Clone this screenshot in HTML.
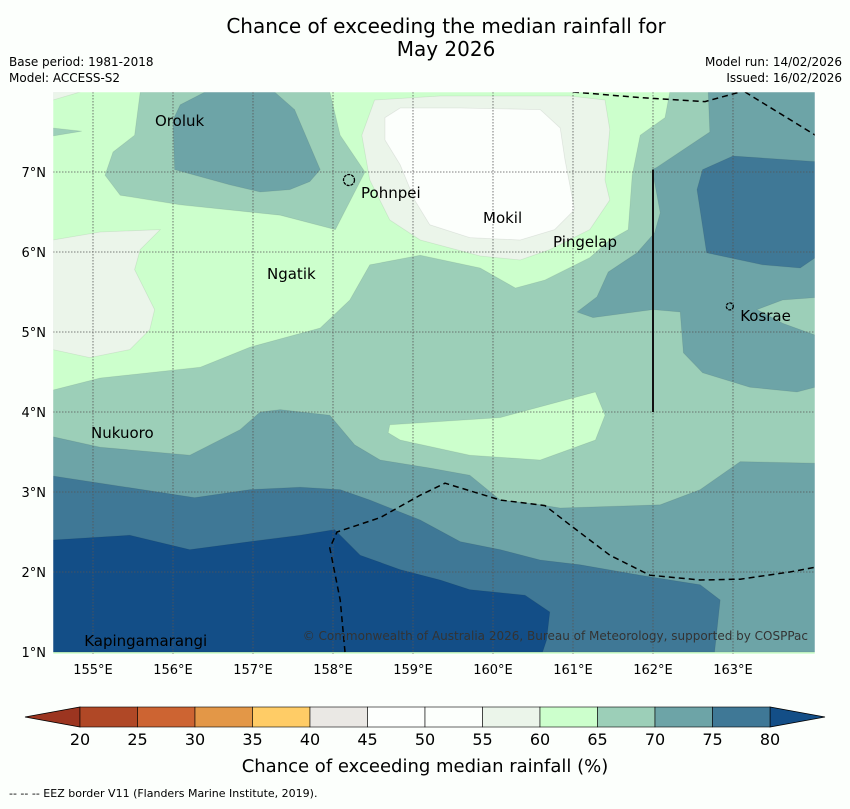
<!DOCTYPE html>
<html><head><meta charset="utf-8"><style>
body{margin:0;background:#fcfffc;width:850px;height:804px;overflow:hidden;font-family:"Liberation Sans","DejaVu Sans",sans-serif}
svg text{font-family:"DejaVu Sans","Liberation Sans",sans-serif}
</style></head><body>
<svg id="chart" width="850" height="804" xmlns="http://www.w3.org/2000/svg">
<text x="446" y="33" font-size="20" text-anchor="middle">Chance of exceeding the median rainfall for</text>
<text x="446" y="56" font-size="20" text-anchor="middle">May 2026</text>
<text x="9" y="66" font-size="12">Base period: 1981-2018</text>
<text x="9" y="82" font-size="12">Model: ACCESS-S2</text>
<text x="842" y="66" font-size="12" text-anchor="end">Model run: 14/02/2026</text>
<text x="842" y="82" font-size="12" text-anchor="end">Issued: 16/02/2026</text>
<g id="map"></g>
<g id="cbar"></g>
<text x="425" y="772" font-size="18" text-anchor="middle">Chance of exceeding median rainfall (%)</text>
<text x="9" y="797" font-size="11">--  --  -- EEZ border V11 (Flanders Marine Institute, 2019).</text>
</svg>
<script>
const levels=[20,25,30,35,40,45,50,55,60,65,70,75,80];
const levelColors=["#b04826","#cd6432","#e39747","#ffcc66","#eae8e4","#fdfffd","#fcfffc","#ebf5ea","#ccffcc","#9ccfb8","#6da4a7","#3f7896"];
const lowColor="#9c3520", highColor="#134e87";
const lonTicks=[155,156,157,158,159,160,161,162,163];
const latTicks=[1,2,3,4,5,6,7];
const regions=[
[65,[[154.5,4.275],[155.09,4.425],[156.34,4.56],[156.96,4.81],[157.84,5.05],[158.21,5.4],[158.46,5.84],[159.09,5.96],[159.84,5.8],[160.28,5.55],[160.65,5.65],[161.21,5.93],[161.46,6.15],[161.69,6.28],[161.74,6.96],[161.84,7.46],[162.15,7.68],[162.21,8],[164.03,8],[164.03,1],[154.5,1]]],
[65,[[155.15,6.96],[155.25,7.25],[155.52,7.46],[155.59,8],[157.96,8],[158.09,7.46],[158.4,7.0],[158.03,6.28],[157.34,6.46],[156.09,6.59],[155.34,6.71]]],
[65,[[154.5,7.55],[154.86,7.51],[154.5,7.45]]],
[60,[[158.71,3.84],[160.09,3.93],[161.28,4.25],[161.4,3.96],[161.28,3.65],[160.59,3.4],[159.71,3.46],[158.84,3.65],[158.69,3.74]]],
[55,[[154.5,6.15],[155.09,6.25],[155.84,6.28],[155.59,6.03],[155.52,5.78],[155.77,5.28],[155.71,5.03],[155.46,4.78],[154.96,4.68],[154.5,4.78]]],
[55,[[154.5,8],[154.84,8],[154.5,7.9]]],
[55,[[158.36,7.46],[158.52,7.9],[159.34,7.95],[160.96,7.95],[161.4,7.9],[161.46,7.53],[161.4,6.9],[161.46,6.65],[161.21,6.28],[160.71,6.03],[160.34,5.9],[159.84,5.95],[159.09,6.15],[158.71,6.4],[158.46,6.9]]],
[50,[[158.65,7.68],[158.84,7.8],[159.59,7.8],[160.59,7.78],[160.84,7.55],[160.9,7.15],[161.02,6.53],[160.77,6.28],[160.34,6.15],[159.71,6.18],[159.21,6.34],[159.02,6.65],[158.84,7.09],[158.65,7.4]]],
[70,[[156.0,7.65],[156.09,7.84],[156.4,8],[157.27,8],[157.52,7.78],[157.84,7.03],[157.71,6.88],[157.46,6.78],[157.09,6.75],[156.71,6.84],[156.02,7.03]]],
[70,[[162.69,8],[162.71,7.5],[162.05,7.06],[161.99,7.03],[162.09,6.49],[162.02,6.24],[161.8,5.99],[161.44,5.75],[161.3,5.44],[161.05,5.25],[161.25,5.18],[162.0,5.28],[162.34,5.25],[162.38,4.74],[162.62,4.49],[163.21,4.31],[163.8,4.25],[164.03,4.31],[164.03,4.96],[163.62,5.11],[163.3,5.28],[163.62,5.4],[164.03,5.43],[164.03,8]]],
[75,[[162.62,7.03],[163.0,7.2],[164.03,7.13],[164.03,5.93],[163.84,5.8],[163.37,5.84],[162.67,5.99],[162.55,6.78]]],
[70,[[154.5,3.69],[155.09,3.56],[156.21,3.46],[156.84,3.78],[157.09,4.0],[157.34,4.03],[157.96,3.96],[158.27,3.59],[158.59,3.4],[159.21,3.3],[159.71,3.21],[160.09,2.9],[160.59,2.84],[160.84,2.8],[162.09,2.84],[162.59,3.03],[163.09,3.38],[164.03,3.36],[164.03,1],[154.5,1]]],
[75,[[154.5,3.2],[155.09,3.11],[156.27,2.93],[156.96,3.03],[157.59,3.06],[158.09,3.03],[158.46,2.9],[159.09,2.65],[159.59,2.38],[160.09,2.28],[160.59,2.15],[161.09,2.09],[161.84,1.96],[162.59,1.84],[162.84,1.65],[162.77,1],[154.5,1]]],
[80,[[154.5,2.4],[155.46,2.46],[156.21,2.28],[156.96,2.38],[157.59,2.46],[158.02,2.53],[158.34,2.21],[158.84,2.03],[159.34,1.9],[159.71,1.78],[160.4,1.71],[160.71,1.5],[160.67,1.15],[160.62,1],[154.5,1]]]
];
const eezLines=[
[[161.0,8],[161.84,7.93],[162.65,7.88],[163.09,8]],
[[163.15,8],[164.03,7.46]],
[[158.15,1],[158.09,1.65],[157.96,2.3],[158.05,2.5],[158.59,2.68],[159.09,2.96],[159.4,3.11],[160.09,2.9],[160.65,2.83],[160.96,2.59],[161.46,2.21],[161.96,1.96],[162.59,1.9],[163.09,1.91],[163.71,2.0],[164.03,2.06]]
];
const places=[["Oroluk",155.775,7.575],["Pohnpei",158.35,6.675],["Mokil",159.875,6.36],["Pingelap",160.75,6.06],["Ngatik",157.175,5.66],["Kosrae",163.09,5.14],["Nukuoro",154.975,3.675],["Kapingamarangi",154.89,1.075]];
const islands=[["pohnpei-island",158.2,6.9,9],["kosrae-island",162.96,5.32,5]];

const X0=53,Y0=92,LON0=154.5,LAT0=8,S=80,W=762,H=562;
const xs=lon=>X0+(lon-LON0)*S;
const ys=lat=>Y0+(LAT0-lat)*S;
const NS="http://www.w3.org/2000/svg";
function mk(tag,attrs,parent){const e=document.createElementNS(NS,tag);for(const k in attrs)e.setAttribute(k,attrs[k]);parent.appendChild(e);return e;}
const map=document.getElementById('map');
const defs=mk('defs',{},map);
const cp=mk('clipPath',{id:'clip'},defs);
mk('rect',{x:X0,y:Y0,width:W,height:H},cp);
const g=mk('g',{'clip-path':'url(#clip)'},map);
const bg=mk('rect',{x:X0,y:Y0,width:W,height:H,fill:levelColors[levels.indexOf(60)]},g);


function colorFor(l){return l>=80?highColor:levelColors[levels.indexOf(l)];}
regions.forEach(r=>{
  const p=mk('polygon',{points:r[1].map(q=>xs(q[0])+','+ys(q[1])).join(' '),fill:colorFor(r[0]),stroke:'#000','stroke-opacity':0.08,'stroke-width':0.8},g);
  
  
});
lonTicks.forEach(l=>{
  const ln=mk('line',{x1:xs(l),x2:xs(l),y1:Y0,y2:Y0+H,stroke:'#555','stroke-width':0.8,'stroke-dasharray':'1.5,1.5'},g);
  
  
  const t=mk('text',{x:xs(l),y:674,'font-size':13,'text-anchor':'middle'},map);
  t.textContent=l+'°E';
  
  
});
latTicks.forEach(l=>{
  if(l>1){const ln=mk('line',{x1:X0,x2:X0+W,y1:ys(l),y2:ys(l),stroke:'#555','stroke-width':0.8,'stroke-dasharray':'1.5,1.5'},g);
  
  }
  const t=mk('text',{x:46,y:ys(l)+5,'font-size':13,'text-anchor':'end'},map);
  t.textContent=l+'°N';
  
  
});
eezLines.forEach(line=>{
  const p=mk('polyline',{points:line.map(q=>xs(q[0])+','+ys(q[1])).join(' '),fill:'none',stroke:'#000','stroke-width':1.5,'stroke-dasharray':'6,4'},g);
  
  
});
const vl=mk('line',{x1:xs(162),x2:xs(162),y1:ys(7.03),y2:ys(4),stroke:'#111','stroke-width':2},g);


islands.forEach(is=>{
  const c=mk('circle',{cx:xs(is[1]),cy:ys(is[2]),r:is[3]/2+1,fill:'none',stroke:'#000','stroke-width':1.3,'stroke-dasharray':'3,1'},g);
  
  
});
places.forEach(p=>{
  const t=mk('text',{x:xs(p[1]),y:ys(p[2]),'font-size':15},g);
  t.textContent=p[0];
  
  
});
const cr=mk('text',{x:808,y:640,'font-size':12,'text-anchor':'end',fill:'#333'},g);
cr.textContent='© Commonwealth of Australia 2026, Bureau of Meteorology, supported by COSPPac';


const fr=mk('rect',{x:X0,y:Y0,width:W,height:H,fill:'none',stroke:'#fff','stroke-width':0.5},map);


const cb=document.getElementById('cbar');
const CX0=80,CX1=770,CY=707,CH=20,bw=(CX1-CX0)/(levels.length-1);
const lt=mk('polygon',{points:`25,${CY+CH/2} ${CX0},${CY} ${CX0},${CY+CH}`,fill:lowColor,stroke:'#000','stroke-width':0.8},cb);


const rt=mk('polygon',{points:`825,${CY+CH/2} ${CX1},${CY} ${CX1},${CY+CH}`,fill:highColor,stroke:'#000','stroke-width':0.8},cb);


levelColors.forEach((c,i)=>{
  const r=mk('rect',{x:CX0+i*bw,y:CY,width:bw,height:CH,fill:c,stroke:'#000','stroke-width':0.6},cb);
  
  
});
levels.forEach((l,i)=>{
  const t=mk('text',{x:CX0+i*bw,y:745,'font-size':16,'text-anchor':'middle'},cb);
  t.textContent=l;
  
  
});
</script>
</body></html>
